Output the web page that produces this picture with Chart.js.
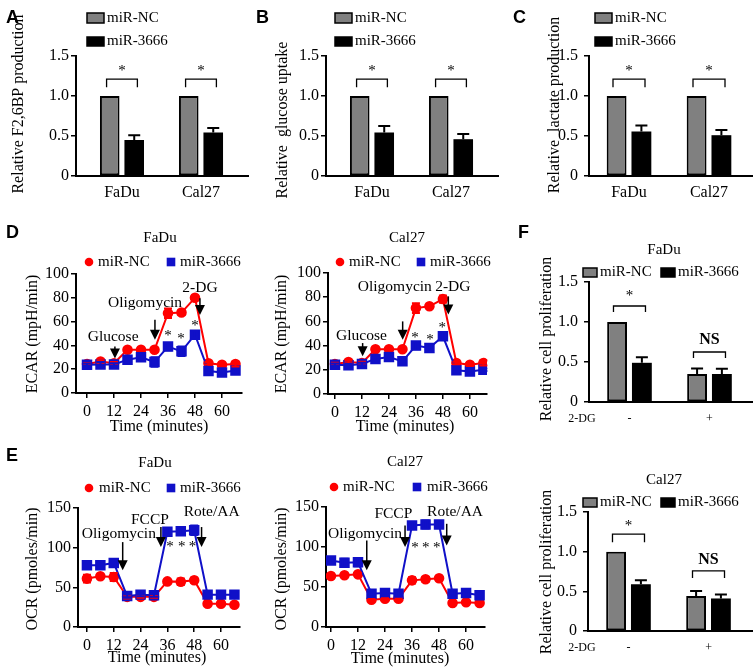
<!DOCTYPE html>
<html>
<head>
<meta charset="utf-8">
<script src="https://cdn.jsdelivr.net/npm/chart.js@4.4.1/dist/chart.umd.min.js"></script>
<style>
  body { margin: 0; background: #fff; }
  #fig { position: relative; width: 753px; height: 669px; overflow: hidden; }
  canvas { position: absolute; }
  .lab { position: absolute; font: bold 18px "Liberation Sans", Arial, sans-serif; line-height: 18px; }
</style>
</head>
<body>
<div id="fig">
  <canvas id="cA"></canvas>
  <canvas id="cB"></canvas>
  <canvas id="cC"></canvas>
  <canvas id="cD1"></canvas>
  <canvas id="cD2"></canvas>
  <canvas id="cE1"></canvas>
  <canvas id="cE2"></canvas>
  <canvas id="cF1"></canvas>
  <canvas id="cF2"></canvas>
  <div class="lab" style="left:6px;top:8px">A</div>
  <div class="lab" style="left:256px;top:8px">B</div>
  <div class="lab" style="left:513px;top:8px">C</div>
  <div class="lab" style="left:6px;top:223px">D</div>
  <div class="lab" style="left:6px;top:446px">E</div>
  <div class="lab" style="left:518px;top:223px">F</div>
</div>
<script>
// ---------- data ----------
const cellLines = ['FaDu', 'Cal27'];
const dgGroups = ['-', '+'];
const barTicks = [0, 0.5, 1.0, 1.5];
const barTickLabels = ['0', '0.5', '1.0', '1.5'];

// A: relative F2,6BP production
const f26NC = [1.0, 1.0];
const f26NCErr = [0, 0];
const f26Mir = [0.45, 0.545];
const f26MirErr = [0.06, 0.055];
// B: relative glucose uptake
const gluNC = [1.0, 1.0];
const gluNCErr = [0, 0];
const gluMir = [0.545, 0.46];
const gluMirErr = [0.08, 0.065];
// C: relative lactate production
const lacNC = [1.0, 1.0];
const lacNCErr = [0, 0];
const lacMir = [0.555, 0.51];
const lacMirErr = [0.075, 0.065];
// F: relative cell proliferation (2-DG - / +)
const proFaDuNC = [1.0, 0.35];
const proFaDuNCErr = [0, 0.07];
const proFaDuMir = [0.49, 0.35];
const proFaDuMirErr = [0.07, 0.065];
const proCalNC = [1.0, 0.44];
const proCalNCErr = [0, 0.065];
const proCalMir = [0.59, 0.41];
const proCalMirErr = [0.05, 0.05];

// D/E: seahorse time courses
const times = [0, 6, 12, 18, 24, 30, 36, 42, 48, 54, 60, 66];
const timeTicks = [0, 12, 24, 36, 48, 60];
const ecarTicks = [0, 20, 40, 60, 80, 100];
const ocrTicks = [0, 50, 100, 150];

const ecarFaDuNC = [24.3, 26.5, 25, 36.3, 36.3, 36.3, 67, 67.6, 80, 25, 23.7, 24.3];
const ecarFaDuNCErr = [1, 1, 1, 1, 1, 1, 4, 2, 1, 1, 1, 2];
const ecarFaDuMir = [23.7, 24, 24, 28, 30, 26, 39, 35, 49, 18.4, 17.3, 19];
const ecarFaDuMirErr = [1, 2, 1, 1, 1, 4, 3, 4, 3, 1, 1, 1];
const ecarCalNC = [24.8, 26.4, 25.6, 37, 37, 37, 71, 72.5, 78.5, 25.6, 24.2, 25.6];
const ecarCalNCErr = [1, 1, 1, 1, 1, 1, 4, 1, 3, 1, 1, 2];
const ecarCalMir = [24.2, 23.7, 24.8, 29, 30.5, 27, 40, 38, 47.7, 19.6, 18.5, 20];
const ecarCalMirErr = [1, 1, 1, 1, 1, 3, 3, 3, 3, 1, 1, 1];

const ocrFaDuNC = [61, 64, 63, 38, 38, 38, 57.5, 57, 59, 29.4, 29.4, 28];
const ocrFaDuNCErr = [5, 2, 5, 2, 1, 1, 1, 4, 3, 1, 1, 1];
const ocrFaDuMir = [77.7, 77.7, 80.7, 39, 40.8, 40, 120, 120.6, 122, 40.8, 40.8, 40.8];
const ocrFaDuMirErr = [1, 1, 2, 2, 2, 2, 4, 3, 6, 1, 1, 1];
const ocrCalNC = [63.75, 64.6, 65.8, 34, 35.4, 35.4, 58.3, 59.6, 61, 30, 31, 30];
const ocrCalNCErr = [1, 1, 2, 1, 1, 1, 4, 3, 1, 1, 1, 1];
const ocrCalMir = [83, 80.4, 81, 41.7, 42.5, 41.7, 127, 128, 128, 41.7, 42.5, 39.6];
const ocrCalMirErr = [2, 5, 5, 2, 4, 4, 4, 5, 3, 4, 2, 1];

// ---------- styling ----------
const serif = '"Liberation Serif", "Times New Roman", serif';
Chart.defaults.font.family = serif;
Chart.defaults.font.size = 16;
Chart.defaults.color = '#000';
Chart.defaults.animation = false;

const RED = '#ff0000';
const BLUE = '#1010c8';
const GREY = '#808080';
const YW = 40;   // fixed y-axis box width
const XH = 30;   // fixed x-axis box height
const AN = 15.5; // annotation label size

// annotations per canvas (page coordinates for text, data coordinates for arrows/brackets)
const notes = {
  cA: {
    ox: 0, oy: 0, bars: true,
    legend: [
      { shape: 'box', color: GREY, x: 87, y: 13, w: 17, h: 10, t: 'miR-NC', tx: 107 },
      { shape: 'box', color: '#000', x: 87, y: 37, w: 17, h: 9, t: 'miR-3666', tx: 107 }
    ],
    texts: [{ t: 'Relative F2,6BP production', x: 19, y: 104, size: 16, rot: -Math.PI / 2 }],
    brackets: [
      { x1: -0.195, x2: 0.195, hi: 1.21, lo: 1.11, mark: '*', my: 1.35 },
      { x1: 0.805, x2: 1.195, hi: 1.21, lo: 1.11, mark: '*', my: 1.35 }
    ]
  },
  cB: {
    ox: 250, oy: 0, bars: true,
    legend: [
      { shape: 'box', color: GREY, x: 335, y: 13, w: 17, h: 10, t: 'miR-NC', tx: 355 },
      { shape: 'box', color: '#000', x: 335, y: 37, w: 17, h: 9, t: 'miR-3666', tx: 355 }
    ],
    texts: [{ t: 'Relative  glucose uptake', x: 283, y: 120, size: 16, rot: -Math.PI / 2 }],
    brackets: [
      { x1: -0.195, x2: 0.195, hi: 1.21, lo: 1.11, mark: '*', my: 1.35 },
      { x1: 0.805, x2: 1.195, hi: 1.21, lo: 1.11, mark: '*', my: 1.35 }
    ]
  },
  cC: {
    ox: 500, oy: 0, bars: true,
    legend: [
      { shape: 'box', color: GREY, x: 595, y: 13, w: 17, h: 10, t: 'miR-NC', tx: 615 },
      { shape: 'box', color: '#000', x: 595, y: 37, w: 17, h: 9, t: 'miR-3666', tx: 615 }
    ],
    texts: [{ t: 'Relative  lactate production', x: 555, y: 105, size: 16, rot: -Math.PI / 2 }],
    brackets: [
      { x1: -0.2, x2: 0.2, hi: 1.21, lo: 1.11, mark: '*', my: 1.35 },
      { x1: 0.8, x2: 1.2, hi: 1.21, lo: 1.11, mark: '*', my: 1.35 }
    ]
  },
  cD1: {
    ox: 0, oy: 205,
    legend: [
      { shape: 'circle', color: RED, x: 89, y: 262, t: 'miR-NC', tx: 98 },
      { shape: 'square', color: BLUE, x: 171, y: 262, t: 'miR-3666', tx: 180 }
    ],
    texts: [
      { t: 'FaDu', x: 160, y: 238 },
      { t: 'ECAR (mpH/min)', x: 33, y: 334, size: 16, rot: -Math.PI / 2 },
      { t: 'Time (minutes)', x: 159, y: 427, size: 16 }
    ],
    arrows: [
      { x: 12.4, from: 39, to: 29 },
      { x: 30.2, from: 61.5, to: 44.7 },
      { x: 50.2, from: 79.6, to: 65.6 }
    ],
    dtexts: [
      { t: 'Glucose', x: 11.6, y: 47, size: AN },
      { t: 'Oligomycin', x: 25.8, y: 75.4, size: AN },
      { t: '2-DG', x: 50.2, y: 88, size: AN },
      { t: '*', x: 36, y: 50.3, dy: 3 },
      { t: '*', x: 41.8, y: 47.5, dy: 3 },
      { t: '*', x: 48, y: 58.7, dy: 3 }
    ]
  },
  cD2: {
    ox: 250, oy: 205,
    legend: [
      { shape: 'circle', color: RED, x: 340, y: 262, t: 'miR-NC', tx: 349 },
      { shape: 'square', color: BLUE, x: 421, y: 262, t: 'miR-3666', tx: 430 }
    ],
    texts: [
      { t: 'Cal27', x: 407, y: 238 },
      { t: 'ECAR (mpH/min)', x: 282, y: 334, size: 16, rot: -Math.PI / 2 },
      { t: 'Time (minutes)', x: 405, y: 427, size: 16 }
    ],
    arrows: [
      { x: 12.3, from: 42.1, to: 31.1 },
      { x: 30.1, from: 60, to: 44.9 },
      { x: 50.4, from: 80.7, to: 65.6 }
    ],
    dtexts: [
      { t: 'Glucose', x: 11.8, y: 48.2, size: AN },
      { t: 'Oligomycin', x: 26.6, y: 88.4, size: AN },
      { t: '2-DG', x: 52.4, y: 88.4, size: AN },
      { t: '*', x: 35.6, y: 49, dy: 3 },
      { t: '*', x: 42.2, y: 46.8, dy: 3 },
      { t: '*', x: 47.7, y: 57.3, dy: 3 }
    ]
  },
  cE1: {
    ox: 0, oy: 440,
    legend: [
      { shape: 'circle', color: RED, x: 89, y: 488, t: 'miR-NC', tx: 99 },
      { shape: 'square', color: BLUE, x: 171, y: 488, t: 'miR-3666', tx: 180 }
    ],
    texts: [
      { t: 'FaDu', x: 155, y: 463 },
      { t: 'OCR (pmoles/min)', x: 33, y: 569, size: 16, rot: -Math.PI / 2 },
      { t: 'Time (minutes)', x: 157, y: 658, size: 16 }
    ],
    arrows: [
      { x: 16, from: 107, to: 71.4 },
      { x: 33.1, from: 126, to: 100.8 },
      { x: 51.3, from: 126, to: 100.8 }
    ],
    dtexts: [
      { t: 'Oligomycin', x: 14.3, y: 117.6, size: AN },
      { t: 'FCCP', x: 28.2, y: 135.3, size: AN },
      { t: 'Rote/AA', x: 55.8, y: 145, size: AN },
      { t: '*', x: 37.2, y: 105, dy: 3 },
      { t: '*', x: 42.4, y: 105, dy: 3 },
      { t: '*', x: 47.2, y: 105, dy: 3 }
    ]
  },
  cE2: {
    ox: 250, oy: 440,
    legend: [
      { shape: 'circle', color: RED, x: 334, y: 487, t: 'miR-NC', tx: 343 },
      { shape: 'square', color: BLUE, x: 417, y: 487, t: 'miR-3666', tx: 427 }
    ],
    texts: [
      { t: 'Cal27', x: 405, y: 462 },
      { t: 'OCR (pmoles/min)', x: 282, y: 569, size: 16, rot: -Math.PI / 2 },
      { t: 'Time (minutes)', x: 400, y: 659, size: 16 }
    ],
    arrows: [
      { x: 15.9, from: 108, to: 71 },
      { x: 32.9, from: 127, to: 100 },
      { x: 51.4, from: 129, to: 102 }
    ],
    dtexts: [
      { t: 'Oligomycin', x: 15.1, y: 116.7, size: AN },
      { t: 'FCCP', x: 27.7, y: 141.7, size: AN },
      { t: 'Rote/AA', x: 55.1, y: 143.75, size: AN },
      { t: '*', x: 37.3, y: 102, dy: 3 },
      { t: '*', x: 42.1, y: 102, dy: 3 },
      { t: '*', x: 47, y: 102, dy: 3 }
    ]
  },
  cF1: {
    ox: 500, oy: 205, bars: true,
    legend: [
      { shape: 'box', color: GREY, x: 583, y: 268, w: 14, h: 9, t: 'miR-NC', tx: 600 },
      { shape: 'box', color: '#000', x: 661, y: 268, w: 14, h: 9, t: 'miR-3666', tx: 678 }
    ],
    texts: [
      { t: 'FaDu', x: 664, y: 250 },
      { t: 'Relative cell proliferation', x: 547, y: 339, size: 16, rot: -Math.PI / 2 },
      { t: '2-DG', x: 582, y: 419, size: 12 }
    ],
    brackets: [
      { x1: -0.2, x2: 0.2, hi: 1.2, lo: 1.125, mark: '*', my: 1.36 },
      { x1: 0.8, x2: 1.2, hi: 0.625, lo: 0.55, mark: 'NS', my: 0.78, bold: true }
    ]
  },
  cF2: {
    ox: 500, oy: 440, bars: true,
    legend: [
      { shape: 'box', color: GREY, x: 583, y: 498, w: 14, h: 9, t: 'miR-NC', tx: 600 },
      { shape: 'box', color: '#000', x: 661, y: 498, w: 14, h: 9, t: 'miR-3666', tx: 678 }
    ],
    texts: [
      { t: 'Cal27', x: 664, y: 480 },
      { t: 'Relative cell proliferation', x: 547, y: 572, size: 16, rot: -Math.PI / 2 },
      { t: '2-DG', x: 582, y: 648, size: 12 }
    ],
    brackets: [
      { x1: -0.2, x2: 0.2, hi: 1.22, lo: 1.12, mark: '*', my: 1.36 },
      { x1: 0.8, x2: 1.2, hi: 0.757, lo: 0.668, mark: 'NS', my: 0.9, bold: true }
    ]
  }
};

function drawText(ctx, s, x, y, size, opt) {
  opt = opt || {};
  ctx.font = (opt.bold ? 'bold ' : '') + (size || 15) + 'px ' + serif;
  ctx.textAlign = opt.align || 'center';
  ctx.textBaseline = 'middle';
  ctx.fillStyle = '#000';
  if (opt.rot) {
    ctx.save();
    ctx.translate(x, y);
    ctx.rotate(opt.rot);
    ctx.fillText(s, 0, 0);
    ctx.restore();
  } else {
    ctx.fillText(s, x, y);
  }
}

const extras = {
  id: 'extras',
  afterDatasetsDraw(chart) {
    const n = notes[chart.canvas.id];
    const ctx = chart.ctx;
    const X = v => chart.scales.x.getPixelForValue(v);
    const Y = v => chart.scales.y.getPixelForValue(v);
    ctx.save();

    // error bars
    chart.data.datasets.forEach((ds, di) => {
      if (!ds.errors) return;
      const meta = chart.getDatasetMeta(di);
      ctx.strokeStyle = ds.errorColor || '#000';
      ctx.lineWidth = 2;
      meta.data.forEach((el, i) => {
        const e = ds.errors[i];
        if (!e) return;
        const v = ds.data[i].y;
        const top = Y(v + e);
        const bot = n.bars ? el.y : Y(v - e);
        const w = n.bars ? 6 : 4;
        ctx.beginPath();
        ctx.moveTo(el.x, bot); ctx.lineTo(el.x, top);
        ctx.moveTo(el.x - w, top); ctx.lineTo(el.x + w, top);
        if (!n.bars) { ctx.moveTo(el.x - w, bot); ctx.lineTo(el.x + w, bot); }
        ctx.stroke();
      });
    });

    // significance brackets
    (n.brackets || []).forEach(b => {
      ctx.strokeStyle = '#000';
      ctx.lineWidth = 1.3;
      ctx.beginPath();
      ctx.moveTo(X(b.x1), Y(b.lo));
      ctx.lineTo(X(b.x1), Y(b.hi));
      ctx.lineTo(X(b.x2), Y(b.hi));
      ctx.lineTo(X(b.x2), Y(b.lo));
      ctx.stroke();
      const dy = b.mark === '*' ? 3 : 0;
      drawText(ctx, b.mark, (X(b.x1) + X(b.x2)) / 2, Y(b.my) + dy, b.bold ? 16 : 15, { bold: b.bold });
    });

    // injection arrows
    (n.arrows || []).forEach(a => {
      const x = X(a.x), y1 = Y(a.from), y2 = Y(a.to);
      ctx.strokeStyle = '#000';
      ctx.fillStyle = '#000';
      ctx.lineWidth = 1.5;
      ctx.beginPath();
      ctx.moveTo(x, y1); ctx.lineTo(x, y2 - 8);
      ctx.stroke();
      ctx.beginPath();
      ctx.moveTo(x - 5, y2 - 10); ctx.lineTo(x + 5, y2 - 10); ctx.lineTo(x, y2);
      ctx.closePath();
      ctx.fill();
    });

    // labels in data coordinates
    (n.dtexts || []).forEach(t => {
      drawText(ctx, t.t, X(t.x), Y(t.y) + (t.dy || 0), t.size || 15);
    });

    // labels in page coordinates
    (n.texts || []).forEach(t => {
      drawText(ctx, t.t, t.x - n.ox, t.y - n.oy, t.size || 15, { rot: t.rot, bold: t.bold });
    });

    // legend
    (n.legend || []).forEach(l => {
      let cy = l.y - n.oy;
      if (l.shape === 'box') {
        const x = l.x - n.ox, y = l.y - n.oy;
        ctx.fillStyle = l.color;
        ctx.fillRect(x, y, l.w, l.h);
        ctx.strokeStyle = '#000';
        ctx.lineWidth = 1.5;
        ctx.strokeRect(x, y, l.w, l.h);
        cy = y + l.h / 2;
      } else if (l.shape === 'circle') {
        ctx.fillStyle = l.color;
        ctx.beginPath();
        ctx.arc(l.x - n.ox, cy, 4.3, 0, Math.PI * 2);
        ctx.fill();
      } else {
        ctx.fillStyle = l.color;
        ctx.fillRect(l.x - n.ox - 4.3, cy - 4.3, 8.6, 8.6);
      }
      drawText(ctx, l.t, l.tx - n.ox, cy, 15, { align: 'left' });
    });

    ctx.restore();
  }
};

function place(id, box, plot) {
  const cv = document.getElementById(id);
  cv.width = box[2];
  cv.height = box[3];
  cv.style.left = box[0] + 'px';
  cv.style.top = box[1] + 'px';
  return {
    left: plot[0] - box[0] - YW,
    right: box[0] + box[2] - plot[1],
    top: plot[2] - box[1],
    bottom: box[1] + box[3] - plot[3] - XH
  };
}

function yAxis(ticks, labels, pad) {
  return {
    type: 'linear',
    min: ticks[0],
    max: ticks[ticks.length - 1],
    afterBuildTicks: s => { s.ticks = ticks.map(v => ({ value: v })); },
    afterFit: s => { s.width = YW; },
    border: { display: true, color: '#000', width: 2 },
    grid: { display: true, drawOnChartArea: false, drawTicks: true, tickLength: 5, color: '#000', lineWidth: 1.5 },
    ticks: { padding: pad, color: '#000', font: { size: 16 }, callback: (v, i) => labels[i] }
  };
}

function xy(xs, ys) {
  return ys.map((v, i) => ({ x: xs[i], y: v }));
}

function barChart(id, box, plot, xmin, xmax, groups, nc, ncErr, mir, mirErr, xFont, yPad) {
  const padding = place(id, box, plot);
  const idx = groups.map((g, i) => i);
  return new Chart(document.getElementById(id), {
    type: 'bar',
    data: {
      datasets: [
        { label: 'miR-NC', data: xy(idx, nc), errors: ncErr, errorColor: '#000',
          backgroundColor: GREY, borderColor: '#000', borderWidth: 2, borderSkipped: false,
          barPercentage: 0.8, categoryPercentage: 0.62 },
        { label: 'miR-3666', data: xy(idx, mir), errors: mirErr, errorColor: '#000',
          backgroundColor: '#000', borderColor: '#000', borderWidth: 0,
          barPercentage: 0.8, categoryPercentage: 0.62 }
      ]
    },
    options: {
      responsive: false,
      events: [],
      layout: { padding: padding },
      plugins: { legend: { display: false }, tooltip: { enabled: false } },
      scales: {
        x: {
          type: 'linear', min: xmin, max: xmax, offset: false,
          afterBuildTicks: s => { s.ticks = idx.map(v => ({ value: v })); },
          afterFit: s => { s.height = XH; },
          border: { display: true, color: '#000', width: 2 },
          grid: { display: false, drawTicks: false },
          ticks: { padding: 17 - 0.6 * xFont, autoSkip: false, maxRotation: 0, color: '#000',
                   font: { size: xFont }, callback: (v, i) => groups[i] }
        },
        y: yAxis(barTicks, barTickLabels, yPad)
      }
    },
    plugins: [extras]
  });
}

function lineChart(id, box, plot, xmin, xmax, yTicks, nc, ncErr, mir, mirErr) {
  const padding = place(id, box, plot);
  return new Chart(document.getElementById(id), {
    type: 'line',
    data: {
      datasets: [
        { label: 'miR-NC', data: xy(times, nc), errors: ncErr, errorColor: RED,
          borderColor: RED, backgroundColor: RED, pointBackgroundColor: RED, pointBorderColor: RED,
          pointStyle: 'circle', pointRadius: 4.3, borderWidth: 2, tension: 0, order: 1 },
        { label: 'miR-3666', data: xy(times, mir), errors: mirErr, errorColor: BLUE,
          borderColor: BLUE, backgroundColor: BLUE, pointBackgroundColor: BLUE, pointBorderColor: BLUE,
          pointStyle: 'rect', pointRadius: 6, borderWidth: 2, tension: 0, order: 0 }
      ]
    },
    options: {
      responsive: false,
      events: [],
      layout: { padding: padding },
      plugins: { legend: { display: false }, tooltip: { enabled: false } },
      scales: {
        x: {
          type: 'linear', min: xmin, max: xmax,
          afterBuildTicks: s => { s.ticks = timeTicks.map(v => ({ value: v })); },
          afterFit: s => { s.height = XH; },
          border: { display: true, color: '#000', width: 2 },
          grid: { display: true, drawOnChartArea: false, drawTicks: true, tickLength: 5, color: '#000', lineWidth: 1.5 },
          ticks: { padding: 4, autoSkip: false, maxRotation: 0, color: '#000', font: { size: 16 } }
        },
        y: yAxis(yTicks, yTicks.map(String), 2)
      }
    },
    plugins: [extras]
  });
}

// top row bar panels
barChart('cA', [0, 0, 250, 208], [76, 248, 56, 176], -0.582, 1.595, cellLines, f26NC, f26NCErr, f26Mir, f26MirErr, 16, 2);
barChart('cB', [250, 0, 250, 208], [326, 498, 56, 176], -0.582, 1.595, cellLines, gluNC, gluNCErr, gluMir, gluMirErr, 16, 2);
barChart('cC', [500, 0, 253, 208], [589, 753, 56, 176], -0.5, 1.55, cellLines, lacNC, lacNCErr, lacMir, lacMirErr, 16, 6);

// D: ECAR
lineChart('cD1', [0, 205, 250, 235], [76, 242, 274, 393], -4.9, 68.9, ecarTicks, ecarFaDuNC, ecarFaDuNCErr, ecarFaDuMir, ecarFaDuMirErr);
lineChart('cD2', [250, 205, 250, 235], [328, 487, 273, 394], -3.1, 67.6, ecarTicks, ecarCalNC, ecarCalNCErr, ecarCalMir, ecarCalMirErr);

// E: OCR
lineChart('cE1', [0, 440, 250, 229], [78, 240, 508, 627], -4.0, 68.5, ocrTicks, ocrFaDuNC, ocrFaDuNCErr, ocrFaDuMir, ocrFaDuMirErr);
lineChart('cE2', [250, 440, 250, 229], [326, 485, 507, 627], -2.2, 68.4, ocrTicks, ocrCalNC, ocrCalNCErr, ocrCalMir, ocrCalMirErr);

// F: proliferation with / without 2-DG
barChart('cF1', [500, 205, 253, 230], [589, 753, 282, 402], -0.506, 1.544, dgGroups, proFaDuNC, proFaDuNCErr, proFaDuMir, proFaDuMirErr, 12, 6);
barChart('cF2', [500, 440, 253, 229], [588, 753, 512, 631], -0.506, 1.556, dgGroups, proCalNC, proCalNCErr, proCalMir, proCalMirErr, 12, 6);
</script>
</body>
</html>
